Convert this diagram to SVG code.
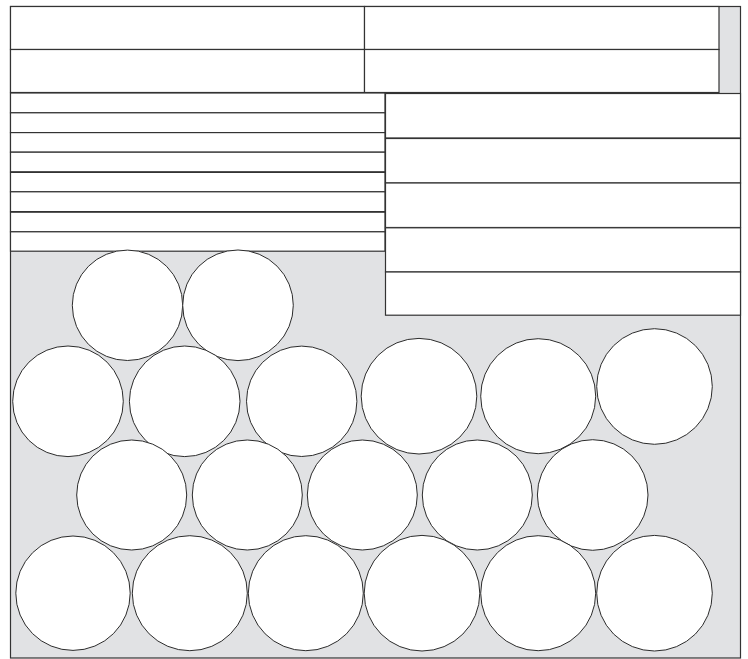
<svg xmlns="http://www.w3.org/2000/svg" width="748" height="659" viewBox="0 0 748 659">
<style>
.bg{fill:#e1e2e4;stroke:#333;stroke-width:1.2}
.box{fill:#fff;stroke:#333;stroke-width:1.2}
.c{fill:#fff;stroke:#2b2b2b;stroke-width:1}
</style>
<rect width="748" height="659" fill="#fff"/>
<g id="frame"><rect class="bg" x="10.5" y="6.5" width="730" height="651.5"/></g>
<g id="top-boxes">
<g id="t1"><rect class="box" x="10.5" y="6.5" width="354" height="43"/></g>
<g id="t2"><rect class="box" x="364.5" y="6.5" width="354.5" height="43"/></g>
<g id="t3"><rect class="box" x="10.5" y="49.5" width="354" height="43"/></g>
<g id="t4"><rect class="box" x="364.5" y="49.5" width="354.5" height="43"/></g>
</g>
<g id="stripes">
<g id="s1"><rect class="box" x="10.5" y="93" width="374.5" height="19.8"/></g>
<g id="s2"><rect class="box" x="10.5" y="112.8" width="374.5" height="19.8"/></g>
<g id="s3"><rect class="box" x="10.5" y="132.6" width="374.5" height="19.6"/></g>
<g id="s4"><rect class="box" x="10.5" y="152.2" width="374.5" height="19.6"/></g>
<g id="s5"><rect class="box" x="10.5" y="172.4" width="374.5" height="19.4"/></g>
<g id="s6"><rect class="box" x="10.5" y="191.8" width="374.5" height="19.8"/></g>
<g id="s7"><rect class="box" x="10.5" y="212.2" width="374.5" height="19.6"/></g>
<g id="s8"><rect class="box" x="10.5" y="231.8" width="374.5" height="19.4"/></g>
</g>
<g id="right-boxes">
<g id="r1"><rect class="box" x="385.5" y="93.5" width="355" height="44.5"/></g>
<g id="r2"><rect class="box" x="385.5" y="138.5" width="355" height="44.5"/></g>
<g id="r3"><rect class="box" x="385.5" y="183" width="355" height="44.5"/></g>
<g id="r4"><rect class="box" x="385.5" y="227.8" width="355" height="44.2"/></g>
<g id="r5"><rect class="box" x="385.5" y="272" width="355" height="43.2"/></g>
</g>
<g id="circles">
<g id="a1"><circle class="c" cx="127.5" cy="305.3" r="55.2"/></g>
<g id="a2"><circle class="c" cx="238" cy="305.3" r="55.3"/></g>
<g id="b1"><circle class="c" cx="68" cy="401.3" r="55.3"/></g>
<g id="b2"><circle class="c" cx="184.7" cy="401.3" r="55.3"/></g>
<g id="b3"><circle class="c" cx="301.7" cy="401.3" r="55.2"/></g>
<g id="b4"><circle class="c" cx="419" cy="396.2" r="57.8"/></g>
<g id="b5"><circle class="c" cx="538.2" cy="396.2" r="57.5"/></g>
<g id="b6"><circle class="c" cx="654.5" cy="386.5" r="57.8"/></g>
<g id="c1"><circle class="c" cx="131.7" cy="495" r="55"/></g>
<g id="c2"><circle class="c" cx="247.3" cy="495" r="55"/></g>
<g id="c3"><circle class="c" cx="362.3" cy="495" r="55"/></g>
<g id="c4"><circle class="c" cx="477.3" cy="495" r="55"/></g>
<g id="c5"><circle class="c" cx="592.7" cy="495" r="55.3"/></g>
<g id="d1"><circle class="c" cx="73" cy="593.2" r="57.2"/></g>
<g id="d2"><circle class="c" cx="189.8" cy="593.2" r="57.5"/></g>
<g id="d3"><circle class="c" cx="305.8" cy="593.2" r="57.5"/></g>
<g id="d4"><circle class="c" cx="422" cy="593.2" r="57.8"/></g>
<g id="d5"><circle class="c" cx="538.2" cy="593.2" r="57.5"/></g>
<g id="d6"><circle class="c" cx="654.5" cy="593.2" r="57.8"/></g>
</g>
<g id="connectors"></g>
</svg>
